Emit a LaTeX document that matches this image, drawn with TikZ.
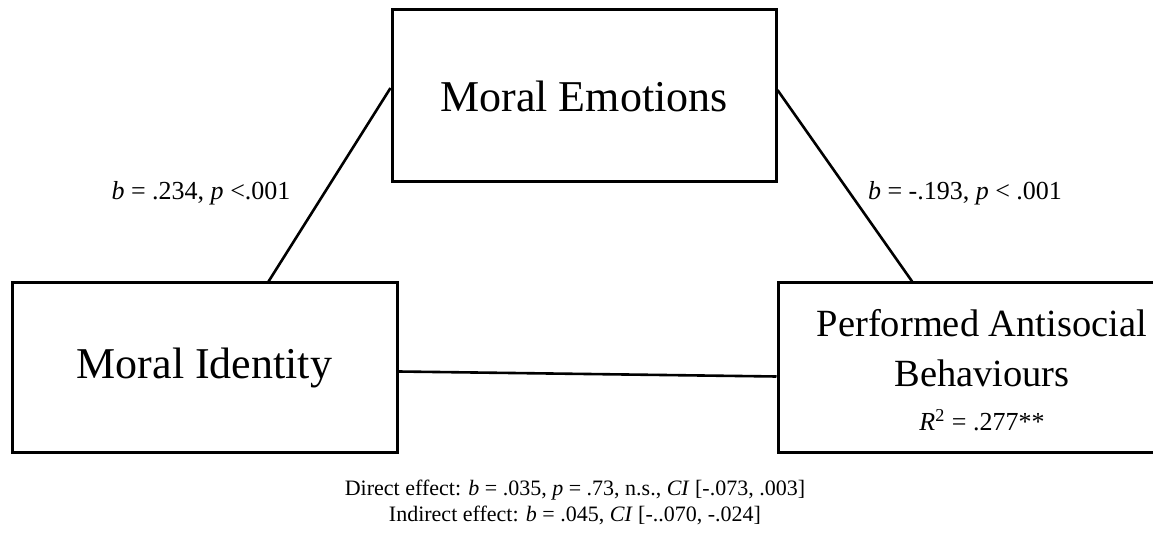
\documentclass[tikz,border=0pt]{standalone}
\usepackage{fontspec}
\setmainfont{Liberation Serif}
\usetikzlibrary{calc}

\tikzset{
    varbox/.style = {draw, line width = 1.5pt, rectangle, inner sep = 0pt},
    path/.style = {line width = 1.3pt},
    coef/.style = {font = \fontsize{13}{15}\selectfont},
    effect/.style = {font = \fontsize{11}{13}\selectfont}
}

\begin{document}
\begin{tikzpicture}[x = 0.5pt, y = -0.5pt]
            \useasboundingbox (0, 0) rectangle (1153, 535);
            % the three variables
            \node[varbox, minimum width = 192pt, minimum height = 86pt, font = \fontsize{22}{26}\selectfont] (emot) at (584, 96) {Moral Emotions};
            \node[varbox, minimum width = 192.5pt, minimum height = 84.5pt, font = \fontsize{22}{26}\selectfont] (ident) at (204.5, 367.5) {Moral Identity};
            \node[varbox, minimum width = 204pt, minimum height = 84.5pt] (behav) at (982, 367.5) {};
            \node[align = center, font = \fontsize{19.25}{25}\selectfont] (behavtxt) at (982, 370) {Performed Antisocial\\Behaviours\\[-3pt]{\fontsize{13}{15}\selectfont\textit{R}\textsuperscript{2} = .277**}};
            % paths a, b and c'
            \draw[path] ($(emot.west) + (0, -8)$) -- ($(ident.north west)!0.665!(ident.north east)$);
            \draw[path] ($(emot.east) + (0, -6)$) -- ($(behav.north west)!0.33!(behav.north east)$);
            \draw[path] ($(ident.east) + (0, 4)$) -- ($(behav.west) + (0, 9)$);
            % coefficients
            \node[coef] (pathA) at (201, 193) {\textit{b} = .234, \textit{p} <.001};
            \node[coef] (pathB) at (965, 193) {\textit{b} = -.193, \textit{p} < .001};
            \node[effect] (direct) at (575, 490) {Direct effect: \textit{b} = .035, \textit{p} = .73, n.s., \textit{CI} [-.073, .003]};
            \node[effect] (indirect) at (575, 515) {Indirect effect: \textit{b} = .045, \textit{CI} [-..070, -.024]};
        \end{tikzpicture}
\end{document}
